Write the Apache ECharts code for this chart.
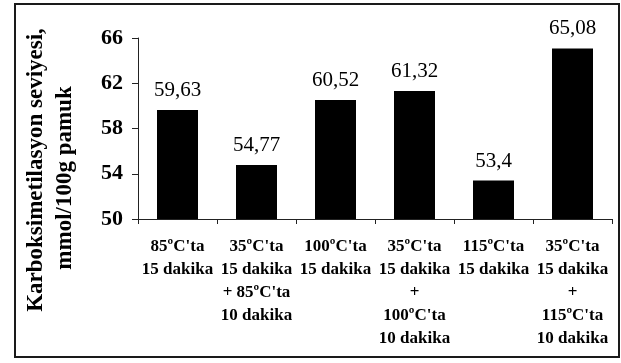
<!DOCTYPE html>
<html>
<head>
<meta charset="utf-8">
<style>
html,body{margin:0;padding:0;background:#fff;}
#c{width:621px;height:363px;}
</style>
<script src="https://cdn.jsdelivr.net/npm/echarts@6/dist/echarts.min.js"></script>
</head>
<body>
<div id="c"></div>
<script>
var categories = [
  "85ºC'ta\n15 dakika",
  "35ºC'ta\n15 dakika\n+ 85ºC'ta\n10 dakika",
  "100ºC'ta\n15 dakika",
  "35ºC'ta\n15 dakika\n+\n100ºC'ta\n10 dakika",
  "115ºC'ta\n15 dakika",
  "35ºC'ta\n15 dakika\n+\n115ºC'ta\n10 dakika"
];
var values = [59.63, 54.77, 60.52, 61.32, 53.4, 65.08];
var yTicks = [50, 54, 58, 62, 66];
var yTitle = ["Karboksimetilasyon seviyesi,", "mmol/100g pamuk"];

var FONT = "'Liberation Serif', 'Times New Roman', serif";
var chart = echarts.init(document.getElementById('c'), null, {renderer: 'canvas'});
chart.setOption({
  animation: false,
  backgroundColor: '#fff',
  grid: {left: 138, right: 9, top: 38, bottom: 144, containLabel: false},
  xAxis: {
    type: 'category',
    data: categories,
    boundaryGap: true,
    axisLine: {lineStyle: {color: '#222', width: 1}},
    axisTick: {show: true, length: 5, inside: false, lineStyle: {color: '#222'}},
    axisLabel: {
      interval: 0, margin: 16,
      fontFamily: FONT, fontWeight: 'bold', fontSize: 17, color: '#000',
      lineHeight: 23
    },
    splitLine: {show: false}
  },
  yAxis: {
    type: 'value',
    min: yTicks[0], max: yTicks[yTicks.length - 1], interval: 4,
    axisLine: {show: true, lineStyle: {color: '#222', width: 1}},
    axisTick: {show: true, length: 6, lineStyle: {color: '#222'}},
    axisLabel: {margin: 15, fontFamily: FONT, fontWeight: 'bold', fontSize: 22, color: '#000'},
    splitLine: {show: false}
  },
  series: [{
    type: 'bar',
    data: values,
    barWidth: 41,
    itemStyle: {color: '#000'},
    label: {
      show: true, position: 'top', distance: 9,
      fontFamily: FONT, fontSize: 21, color: '#000',
      formatter: function (p) { return String(p.value).replace('.', ','); }
    }
  }],
  graphic: [
    {type: 'rect', shape: {x: 15, y: 4, width: 604, height: 353},
     style: {fill: 'none', stroke: '#1a1a1a', lineWidth: 2}, silent: true},
    {type: 'text', x: 36, y: 170, rotation: Math.PI / 2,
     style: {text: yTitle[0], font: "bold 23px " + FONT, fill: '#000', align: 'center', verticalAlign: 'middle'}},
    {type: 'text', x: 65, y: 178, rotation: Math.PI / 2,
     style: {text: yTitle[1], font: "bold 23px " + FONT, fill: '#000', align: 'center', verticalAlign: 'middle'}}
  ]
});
</script>
</body>
</html>
